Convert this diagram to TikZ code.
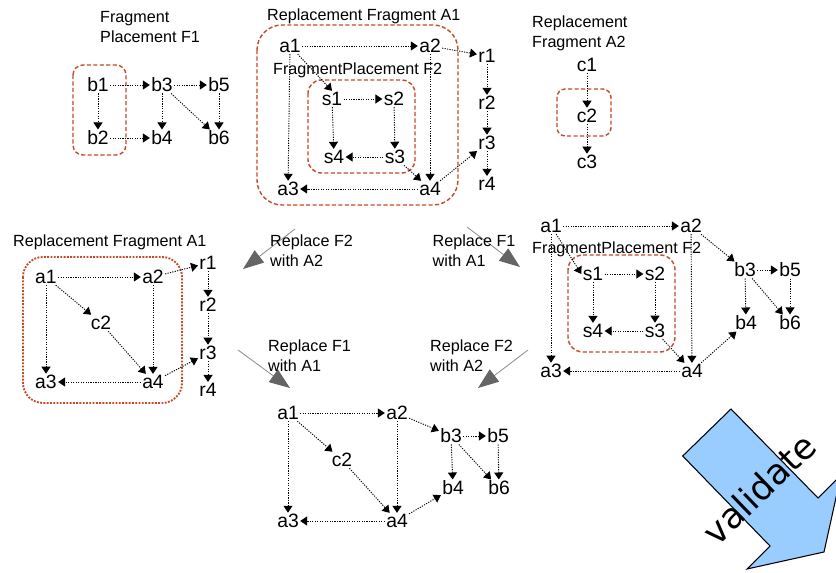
\documentclass[tikz,border=0pt]{standalone}
\usepackage{fontspec}
\setmainfont{Liberation Sans}
\newfontfamily\validatefont{DejaVu Sans}
\usepackage{xcolor}
\usetikzlibrary{arrows.meta}
\definecolor{fragred}{RGB}{200,72,40}
\definecolor{replgray}{RGB}{140,140,140}
\definecolor{replhead}{RGB}{100,100,100}
\definecolor{validblue}{RGB}{153,204,255}

\begin{document}
\begin{tikzpicture}[x=0.03cm,y=-0.03cm,
    lbl/.style={inner sep=1pt,font=\fontsize{16.5}{18}\selectfont},
    ttl/.style={anchor=north west,inner sep=0pt,align=left,font=\fontsize{13.8}{16.5}\selectfont},
    edge/.style={line width=0.8pt,dash pattern=on 1pt off 1.1pt,-{Triangle[width=0.27cm,length=0.21cm]}},
    fragbox/.style={draw=fragred,line width=1.2pt,dash pattern=on 3.5pt off 2pt},
    fragdots/.style={draw=fragred,line width=1.6pt,dash pattern=on 1.6pt off 1.2pt},
    repl/.style={draw=replgray,line width=0.7pt,-{Triangle[width=0.46cm,length=0.62cm,color=replhead]}}]
    \useasboundingbox (0,0) rectangle (836,573);

    % Marking titles
    \node[ttl] (pf-title) at (100,11.5) {Fragment\\Placement F1};
    \node[ttl] (ra-title) at (267,8.5) {Replacement Fragment A1};
    \node[ttl] (rb-title) at (532,16) {Replacement\\Fragment A2};
    \node[ttl] (xl-title) at (13,235) {Replacement Fragment A1};
    \node[ttl] (ra-f2) at (273,63) {FragmentPlacement F2};
    \node[ttl] (xr-f2) at (532,241.5) {FragmentPlacement F2};

    % Drawing fragment boxes
    \draw[fragbox,rounded corners=0.3cm] (73,65) rectangle (126,155);
    \draw[fragbox,rounded corners=0.75cm] (257,25) rectangle (458,205);
    \draw[fragbox,rounded corners=0.4cm] (308,80) rectangle (415,173);
    \draw[fragbox,rounded corners=0.25cm] (557,89) rectangle (611,136);
    \draw[fragdots,rounded corners=0.6cm] (23,257) rectangle (182,403);
    \draw[fragbox,rounded corners=0.45cm] (568,255) rectangle (675,352);

    % Fragment Placement F1
    \node[lbl] (pf-b1) at (98,85) {b1};
    \node[lbl] (pf-b3) at (162,85) {b3};
    \node[lbl] (pf-b5) at (219,85) {b5};
    \node[lbl] (pf-b2) at (98,138) {b2};
    \node[lbl] (pf-b4) at (162,138) {b4};
    \node[lbl] (pf-b6) at (219,138) {b6};
    \draw[edge] (pf-b1) -- (pf-b3);
    \draw[edge] (pf-b3) -- (pf-b5);
    \draw[edge] (pf-b1) -- (pf-b2);
    \draw[edge] (pf-b2) -- (pf-b4);
    \draw[edge] (pf-b3) -- (pf-b4);
    \draw[edge] (pf-b3) -- (pf-b6);
    \draw[edge] (pf-b5) -- (pf-b6);

    % Replacement Fragment A1
    \node[lbl] (ra-a1) at (290,46) {a1};
    \node[lbl] (ra-a2) at (430,46) {a2};
    \node[lbl] (ra-r1) at (487,56) {r1};
    \node[lbl] (ra-r2) at (487,103) {r2};
    \node[lbl] (ra-r3) at (487,143) {r3};
    \node[lbl] (ra-r4) at (487,184) {r4};
    \node[lbl] (ra-a3) at (288,189) {a3};
    \node[lbl] (ra-a4) at (430,189) {a4};
    \node[lbl] (ra-s1) at (332,99) {s1};
    \node[lbl] (ra-s2) at (394,99) {s2};
    \node[lbl] (ra-s4) at (334,157) {s4};
    \node[lbl] (ra-s3) at (395,157) {s3};
    \draw[edge] (ra-a1) -- (ra-a2);
    \draw[edge] (ra-a1) -- (ra-a3);
    \draw[edge] (ra-a2) -- (ra-a4);
    \draw[edge] (ra-a4) -- (ra-a3);
    \draw[edge] (ra-a2) -- (ra-r1);
    \draw[edge] (ra-r1) -- (ra-r2);
    \draw[edge] (ra-r2) -- (ra-r3);
    \draw[edge] (ra-r3) -- (ra-r4);
    \draw[edge] (ra-a4) -- (ra-r3);
    \draw[edge] (ra-a1) -- (ra-s1.north);
    \draw[edge] (ra-s1) -- (ra-s2);
    \draw[edge] (ra-s1) -- (ra-s4);
    \draw[edge] (ra-s2) -- (ra-s3);
    \draw[edge] (ra-s3) -- (ra-s4);
    \draw[edge] (ra-s3) -- (ra-a4);

    % Replacement Fragment A2
    \node[lbl] (rb-c1) at (587,65) {c1};
    \node[lbl] (rb-c2) at (587,116) {c2};
    \node[lbl] (rb-c3) at (587,162) {c3};
    \draw[edge] (rb-c1) -- (rb-c2);
    \draw[edge] (rb-c2) -- (rb-c3);

    % Replace F2 with A2
    \node[lbl] (xl-a1) at (46,277) {a1};
    \node[lbl] (xl-a2) at (153,277) {a2};
    \node[lbl] (xl-r1) at (208,263) {r1};
    \node[lbl] (xl-r2) at (208,305) {r2};
    \node[lbl] (xl-r3) at (208,353) {r3};
    \node[lbl] (xl-r4) at (208,390) {r4};
    \node[lbl] (xl-c2) at (101,323) {c2};
    \node[lbl] (xl-a3) at (46,382) {a3};
    \node[lbl] (xl-a4) at (153,382) {a4};
    \draw[edge] (xl-a1) -- (xl-a2);
    \draw[edge] (xl-a1) -- (xl-a3);
    \draw[edge] (xl-a2) -- (xl-a4);
    \draw[edge] (xl-a4) -- (xl-a3);
    \draw[edge] (xl-a1) -- (xl-c2);
    \draw[edge] (xl-c2) -- (xl-a4);
    \draw[edge] (xl-a2) -- (xl-r1);
    \draw[edge] (xl-r1) -- (xl-r2);
    \draw[edge] (xl-r2) -- (xl-r3);
    \draw[edge] (xl-r3) -- (xl-r4);
    \draw[edge] (xl-a4) -- (xl-r3);

    % Replace F1 with A1
    \node[lbl] (xr-a1) at (551,226) {a1};
    \node[lbl] (xr-a2) at (691,226) {a2};
    \node[lbl] (xr-s1) at (593,274) {s1};
    \node[lbl] (xr-s2) at (655,274) {s2};
    \node[lbl] (xr-s4) at (593,331) {s4};
    \node[lbl] (xr-s3) at (655,331) {s3};
    \node[lbl] (xr-a3) at (551,371) {a3};
    \node[lbl] (xr-a4) at (692,371) {a4};
    \node[lbl] (xr-b3) at (745,270) {b3};
    \node[lbl] (xr-b5) at (790,270) {b5};
    \node[lbl] (xr-b4) at (746,323) {b4};
    \node[lbl] (xr-b6) at (790,323) {b6};
    \draw[edge] (xr-a1) -- (xr-a2);
    \draw[edge] (xr-a1) -- (xr-a3);
    \draw[edge] (xr-a2) -- (xr-a4);
    \draw[edge] (xr-a4) -- (xr-a3);
    \draw[edge] (xr-a1) -- (xr-s1.west);
    \draw[edge] (xr-s1) -- (xr-s2);
    \draw[edge] (xr-s1) -- (xr-s4);
    \draw[edge] (xr-s2) -- (xr-s3);
    \draw[edge] (xr-s3) -- (xr-s4);
    \draw[edge] (xr-s3) -- (xr-a4);
    \draw[edge] (xr-a2) -- (xr-b3);
    \draw[edge] (xr-b3) -- (xr-b5);
    \draw[edge] (xr-b3) -- (xr-b4);
    \draw[edge] (xr-b3) -- (xr-b6);
    \draw[edge] (xr-b5) -- (xr-b6);
    \draw[edge] (xr-a4) -- (xr-b4);

    % Result of both replacements
    \node[lbl] (res-a1) at (288,413) {a1};
    \node[lbl] (res-a2) at (397,413) {a2};
    \node[lbl] (res-c2) at (342,460) {c2};
    \node[lbl] (res-b3) at (451,436) {b3};
    \node[lbl] (res-b5) at (498,436) {b5};
    \node[lbl] (res-b4) at (453,488) {b4};
    \node[lbl] (res-b6) at (499,488) {b6};
    \node[lbl] (res-a3) at (288,521) {a3};
    \node[lbl] (res-a4) at (397,521) {a4};
    \draw[edge] (res-a1) -- (res-a2);
    \draw[edge] (res-a1) -- (res-a3);
    \draw[edge] (res-a2) -- (res-a4);
    \draw[edge] (res-a4) -- (res-a3);
    \draw[edge] (res-a1) -- (res-c2);
    \draw[edge] (res-c2) -- (res-a4);
    \draw[edge] (res-a2) -- (res-b3);
    \draw[edge] (res-b3) -- (res-b5);
    \draw[edge] (res-b3) -- (res-b4);
    \draw[edge] (res-b3) -- (res-b6);
    \draw[edge] (res-b5) -- (res-b6);
    \draw[edge] (res-a4) -- (res-b4);

    % Drawing replacement arrows
    \coordinate (ul-from) at (295,229);
    \coordinate (ul-to) at (243,269);
    \coordinate (ur-from) at (467,227);
    \coordinate (ur-to) at (520,267);
    \coordinate (ll-from) at (238,350);
    \coordinate (ll-to) at (290,388);
    \coordinate (lr-from) at (528,350);
    \coordinate (lr-to) at (478,388);
    \draw[repl] (ul-from) -- (ul-to);
    \draw[repl] (ur-from) -- (ur-to);
    \draw[repl] (ll-from) -- (ll-to);
    \draw[repl] (lr-from) -- (lr-to);
    \node[ttl] (ul-text) at (270,235) {Replace F2\\with A2};
    \node[ttl] (ur-text) at (432.5,235) {Replace F1\\with A1};
    \node[ttl] (ll-text) at (268,340) {Replace F1\\with A1};
    \node[ttl] (lr-text) at (430,340) {Replace F2\\with A2};

    % Drawing validate arrow
    \draw[fill=validblue,line width=0.9pt,line join=miter] (682.7,456) -- (731,409) -- (818,498)
        -- (841,475) -- (824,552) -- (747,569) -- (770,546) -- cycle;
    \node[rotate=44,inner sep=0pt,font=\validatefont\fontsize{30}{30}\selectfont] (validate) at (759,489) {validate};
\end{tikzpicture}
\end{document}
